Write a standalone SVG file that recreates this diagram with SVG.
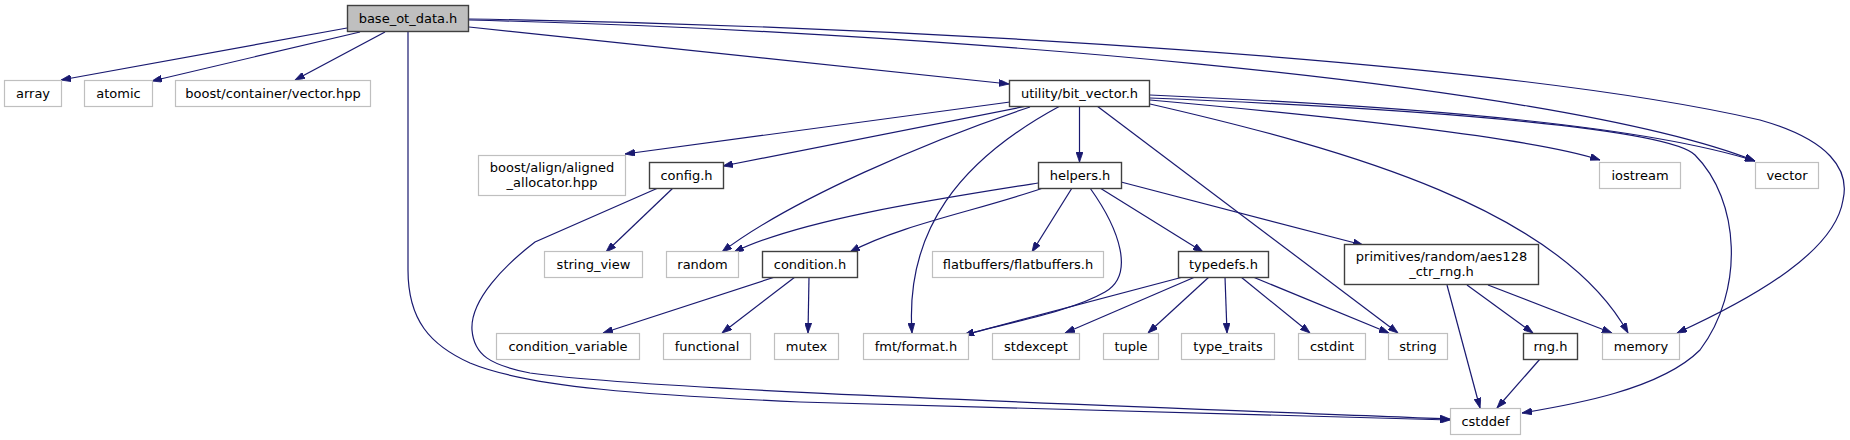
<svg xmlns="http://www.w3.org/2000/svg" width="1850" height="440" viewBox="0 0 1850 440">
<style>
.n rect{fill:#fff;stroke:#bfbfbf;stroke-width:1.2}
.d rect{fill:#fff;stroke:#404040;stroke-width:1.4}
.r rect{fill:#bfbfbf;stroke:#404040;stroke-width:1.4}
text{font-family:"DejaVu Sans",sans-serif;font-size:13px;fill:#000;text-anchor:middle}
#edges path{fill:none;stroke:#191970;stroke-width:1.2;marker-end:url(#a)}
</style>
<defs>
<marker id="a" viewBox="0 0 10 7" refX="10" refY="3.5" markerWidth="10" markerHeight="7" markerUnits="userSpaceOnUse" orient="auto">
<path d="M0,0 L10,3.5 L0,7 z" fill="#191970" stroke="#191970" stroke-width="0.8"/>
</marker>
</defs>
<rect width="1850" height="440" fill="#fff"/>
<g id="edges">
<path d="M347,28 L61,80"/>
<path d="M360,32 L152,81"/>
<path d="M385,32 L295,80"/>
<path d="M469,27 L1009,84"/>
<path d="M469,20 C900,30 1550,80 1755,161"/>
<path d="M469,19 C900,26 1500,60 1760,120 C1830,140 1850,170 1843,200 C1835,250 1760,295 1677,333"/>
<path d="M408,31 L408,270 C408,320 430,345 470,363 C530,388 650,395 800,402 C1100,412 1300,416 1450,420"/>
<path d="M1010,102 L625,154"/>
<path d="M1027,106 L723,166"/>
<path d="M1030,107 C930,140 790,200 722,252"/>
<path d="M1060,106 C960,160 905,230 912,333"/>
<path d="M1079.5,106 L1079.5,162"/>
<path d="M1097,106 L1398,333"/>
<path d="M1150,104 C1350,150 1560,210 1628,333"/>
<path d="M1150,100 C1350,118 1540,140 1600,160"/>
<path d="M1150,95 C1450,108 1650,128 1755,161"/>
<path d="M1150,98 C1450,110 1670,130 1695,155 C1740,200 1745,290 1700,350 C1660,390 1570,405 1522,413"/>
<path d="M673,188 L606,252"/>
<path d="M658,188 L535,242 C505,265 470,300 472,330 C474,355 490,365 530,373 C650,390 1100,405 1450,419"/>
<path d="M1038,183 C930,200 800,220 734,252"/>
<path d="M1043,188 C980,210 900,225 850,252"/>
<path d="M1072,188 L1032,252"/>
<path d="M1090,188 C1120,230 1135,275 1105,292 C1070,312 1010,322 964,335"/>
<path d="M1100,188 L1203,252"/>
<path d="M1121,182 L1363,245"/>
<path d="M775,277 L603,333"/>
<path d="M795,277 L722,333"/>
<path d="M809,277 L808,333"/>
<path d="M1183,277 L964,335"/>
<path d="M1195,277 L1065,333"/>
<path d="M1209,277 L1148,333"/>
<path d="M1225,277 L1227,333"/>
<path d="M1241,277 L1310,333"/>
<path d="M1253,277 L1389,333"/>
<path d="M1447,285 L1480,408"/>
<path d="M1467,285 L1533,333"/>
<path d="M1488,285 L1612,333"/>
<path d="M1540,359 L1497,408"/>
</g>
<g id="base_ot_data" class="r"><rect x="347.5" y="5.5" width="121" height="26"/><text x="408" y="23">base_ot_data.h</text></g>
<g id="array" class="n"><rect x="4.5" y="80.5" width="57" height="26"/><text x="33" y="98">array</text></g>
<g id="atomic" class="n"><rect x="84.5" y="80.5" width="68" height="26"/><text x="118.5" y="98">atomic</text></g>
<g id="boost_container_vector" class="n"><rect x="175.5" y="80.5" width="195" height="26"/><text x="273" y="98">boost/container/vector.hpp</text></g>
<g id="bit_vector" class="d"><rect x="1009.5" y="80.5" width="140" height="26"/><text x="1079.5" y="98">utility/bit_vector.h</text></g>
<g id="aligned_allocator" class="n"><rect x="478.5" y="155.5" width="147" height="40"/><text x="552" y="172">boost/align/aligned</text><text x="552" y="187">_allocator.hpp</text></g>
<g id="config" class="d"><rect x="649.5" y="162.5" width="74" height="26"/><text x="686.5" y="180">config.h</text></g>
<g id="helpers" class="d"><rect x="1038.5" y="162.5" width="83" height="26"/><text x="1080" y="180">helpers.h</text></g>
<g id="iostream" class="n"><rect x="1599.5" y="162.5" width="81" height="26"/><text x="1640" y="180">iostream</text></g>
<g id="vector" class="n"><rect x="1755.5" y="162.5" width="63" height="26"/><text x="1787" y="180">vector</text></g>
<g id="string_view" class="n"><rect x="544.5" y="251.5" width="98" height="26"/><text x="593.5" y="269">string_view</text></g>
<g id="random" class="n"><rect x="666.5" y="251.5" width="72" height="26"/><text x="702.5" y="269">random</text></g>
<g id="condition" class="d"><rect x="762.5" y="251.5" width="95" height="26"/><text x="810" y="269">condition.h</text></g>
<g id="flatbuffers" class="n"><rect x="932.5" y="251.5" width="171" height="26"/><text x="1018" y="269">flatbuffers/flatbuffers.h</text></g>
<g id="typedefs" class="d"><rect x="1178.5" y="251.5" width="90" height="26"/><text x="1223.5" y="269">typedefs.h</text></g>
<g id="aes128_ctr_rng" class="d"><rect x="1344.5" y="244.5" width="194" height="40"/><text x="1441.5" y="261">primitives/random/aes128</text><text x="1441.5" y="276">_ctr_rng.h</text></g>
<g id="condition_variable" class="n"><rect x="496.5" y="333.5" width="143" height="26"/><text x="568" y="351">condition_variable</text></g>
<g id="functional" class="n"><rect x="663.5" y="333.5" width="87" height="26"/><text x="707" y="351">functional</text></g>
<g id="mutex" class="n"><rect x="774.5" y="333.5" width="64" height="26"/><text x="806.5" y="351">mutex</text></g>
<g id="fmt_format" class="n"><rect x="863.5" y="333.5" width="105" height="26"/><text x="916" y="351">fmt/format.h</text></g>
<g id="stdexcept" class="n"><rect x="992.5" y="333.5" width="87" height="26"/><text x="1036" y="351">stdexcept</text></g>
<g id="tuple" class="n"><rect x="1103.5" y="333.5" width="55" height="26"/><text x="1131" y="351">tuple</text></g>
<g id="type_traits" class="n"><rect x="1181.5" y="333.5" width="93" height="26"/><text x="1228" y="351">type_traits</text></g>
<g id="cstdint" class="n"><rect x="1298.5" y="333.5" width="67" height="26"/><text x="1332" y="351">cstdint</text></g>
<g id="string" class="n"><rect x="1388.5" y="333.5" width="59" height="26"/><text x="1418" y="351">string</text></g>
<g id="rng" class="d"><rect x="1523.5" y="333.5" width="54" height="26"/><text x="1550.5" y="351">rng.h</text></g>
<g id="memory" class="n"><rect x="1602.5" y="333.5" width="77" height="26"/><text x="1641" y="351">memory</text></g>
<g id="cstddef" class="n"><rect x="1450.5" y="408.5" width="70" height="26"/><text x="1485.5" y="426">cstddef</text></g>
</svg>
